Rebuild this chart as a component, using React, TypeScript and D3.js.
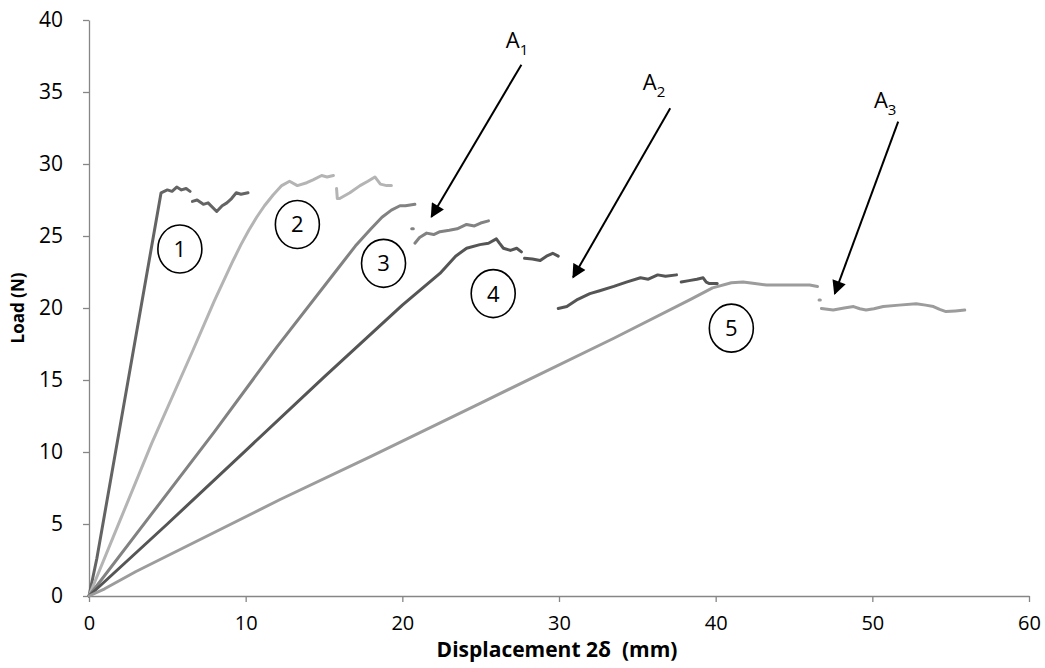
import React, { useEffect, useRef } from 'react';
import * as d3 from 'd3';

type Pt = [number, number];

// Load-displacement readings, split where the recorded trace breaks
const curve1: Pt[][] = [
  [[0, 0], [0.5, 2.6], [2, 11.9], [4.6, 28.0], [5.0, 28.2], [5.3, 28.1], [5.6, 28.4], [5.9, 28.2], [6.2, 28.3], [6.45, 28.1]],
  [[6.6, 27.4], [6.9, 27.5], [7.3, 27.2], [7.6, 27.3], [8.15, 26.7], [8.5, 27.1], [8.8, 27.3], [9.1, 27.6], [9.4, 28.0], [9.7, 27.9], [10.15, 28.0]],
];
const curve2: Pt[][] = [
  [[0, 0], [2, 5.3], [4, 10.6], [6.65, 17.1], [8, 20.5], [9.2, 23.3], [9.7, 24.4], [10.2, 25.4], [10.7, 26.3], [11.2, 27.1], [11.75, 27.85], [12.3, 28.5], [12.8, 28.8], [13.3, 28.5], [13.9, 28.7], [14.3, 28.9], [14.85, 29.2], [15.2, 29.1], [15.6, 29.2]],
  [[15.8, 28.3], [15.85, 27.6], [16.0, 27.6], [16.65, 28.0], [17.3, 28.5], [17.8, 28.8], [18.25, 29.1], [18.6, 28.6], [19.0, 28.5], [19.3, 28.5]],
];
const curve3: Pt[][] = [
  [[0, 0], [4, 5.7], [8, 11.4], [12, 17.3], [16, 22.9], [17, 24.3], [18, 25.5], [18.7, 26.3], [19.3, 26.8], [19.85, 27.1], [20.2, 27.1], [20.8, 27.2]],
  [[20.6, 25.5], [20.7, 25.5]],
  [[20.8, 24.5], [21.1, 24.9], [21.55, 25.2], [22, 25.1], [22.4, 25.3], [23, 25.4], [23.5, 25.5], [24.1, 25.8], [24.6, 25.7], [25.0, 25.9], [25.5, 26.05]],
];
const curve4: Pt[][] = [
  [[0, 0], [5, 5], [10, 10.1], [15, 15.2], [20, 20.2], [22.4, 22.4], [23.4, 23.6], [24.1, 24.15], [24.95, 24.4], [25.5, 24.5], [26.0, 24.8], [26.2, 24.5], [26.45, 24.15], [26.9, 24.0], [27.3, 24.15], [27.6, 23.9]],
  [[27.8, 23.45], [28.3, 23.4], [28.8, 23.3], [29.2, 23.6], [29.6, 23.8], [29.95, 23.6]],
  [[29.95, 19.97], [30.5, 20.1], [31.2, 20.6], [31.97, 21.0], [32.6, 21.2], [33.5, 21.5], [34.3, 21.8], [35.2, 22.1], [35.7, 22.0], [36.3, 22.3], [36.8, 22.2], [37.5, 22.3]],
  [[37.8, 21.8], [38.3, 21.9], [38.8, 22.0], [39.2, 22.1], [39.4, 21.8], [39.6, 21.7], [40.1, 21.7]],
];
const curve5: Pt[][] = [
  [[0, 0], [1, 0.5], [3, 1.7], [12.2, 6.7], [18, 9.7], [25, 13.4], [33.5, 17.9], [38.4, 20.6], [39.8, 21.4], [41, 21.75], [41.75, 21.8], [42.5, 21.7], [43.25, 21.6], [44.5, 21.6], [45.4, 21.6], [46.0, 21.6], [46.5, 21.5]],
  [[46.6, 20.55], [46.68, 20.55]],
  [[46.75, 19.97], [47.5, 19.86], [48.2, 20.0], [48.8, 20.1], [49.2, 19.95], [49.6, 19.86], [50.1, 19.95], [50.7, 20.1], [51.7, 20.2], [52.8, 20.3], [53.4, 20.2], [53.9, 20.1], [54.3, 19.9], [54.7, 19.75], [55.3, 19.8], [55.9, 19.86]],
];

const curves = [curve1, curve2, curve3, curve4, curve5];
const curveColors = ['#646464', '#b4b4b4', '#828282', '#555555', '#9c9c9c'];

// circled specimen numbers (data coordinates)
const specimenLabels = ['1', '2', '3', '4', '5'];
const specimenPos: Pt[] = [[5.8, 24.1], [13.3, 25.8], [18.8, 23.1], [25.8, 21.0], [41.0, 18.6]];

// crack-arrest arrows: label anchor, arrow start, arrow tip
const arrowNames = ['1', '2', '3'];
const arrowLabelPos: Pt[] = [[26.6, 38.06], [35.35, 35.14], [50.1, 33.9]];
const arrowFrom: Pt[] = [[27.6, 36.9], [37.1, 33.87], [51.65, 32.94]];
const arrowTo: Pt[] = [[21.86, 26.34], [30.9, 22.13], [47.6, 21.0]];

const xTicks = [0, 10, 20, 30, 40, 50, 60];
const yTicks = [0, 5, 10, 15, 20, 25, 30, 35, 40];

const W = 1045;
const H = 668;

const App = () => {
  const ref = useRef<SVGSVGElement>(null);

  useEffect(() => {
    const svg = d3.select(ref.current);
    svg.selectAll('*').remove();

    const x = d3.scaleLinear().domain([0, 60]).range([89, 1029]);
    const y = d3.scaleLinear().domain([0, 40]).range([596, 20]);
    const font = '"Open Sans", "Noto Sans", sans-serif';

    svg.append('defs').append('marker')
      .attr('id', 'head')
      .attr('viewBox', '0 0 10 10')
      .attr('refX', 9)
      .attr('refY', 5)
      .attr('markerUnits', 'userSpaceOnUse')
      .attr('markerWidth', 15)
      .attr('markerHeight', 14)
      .attr('orient', 'auto')
      .append('path')
      .attr('d', 'M0,0 L10,5 L0,10 Z')
      .attr('fill', '#000');

    // axes
    const xAxis = svg.append('g')
      .attr('transform', `translate(0,${y(0)})`)
      .call(d3.axisBottom(x).tickValues(xTicks).tickSize(6).tickSizeOuter(0).tickPadding(17));
    const yAxis = svg.append('g')
      .attr('transform', `translate(${x(0)},0)`)
      .call(d3.axisLeft(y).tickValues(yTicks).tickSize(6).tickSizeOuter(0).tickPadding(20));
    [xAxis, yAxis].forEach(g => {
      g.select('.domain').attr('stroke', '#868686').attr('stroke-width', 1.3);
      g.selectAll('.tick line').attr('stroke', '#868686').attr('stroke-width', 1.3);
      g.selectAll('.tick text')
        .attr('fill', '#000')
        .style('font-family', font);
    });
    xAxis.selectAll('.tick text').style('font-size', '20px').attr('dy', '0.55em');
    yAxis.selectAll('.tick text').style('font-size', '21px');

    // axis titles
    svg.append('text')
      .attr('x', 557)
      .attr('y', 657)
      .attr('text-anchor', 'middle')
      .style('font-family', font)
      .style('font-size', '21px')
      .style('font-weight', 'bold')
      .attr('xml:space', 'preserve')
      .text('Displacement 2δ  (mm)');
    svg.append('text')
      .attr('transform', 'translate(24,308) rotate(-90)')
      .attr('text-anchor', 'middle')
      .style('font-family', font)
      .style('font-size', '17px')
      .style('font-weight', 'bold')
      .text('Load (N)');

    // curves
    const line = d3.line<Pt>().x(d => x(d[0])).y(d => y(d[1]));
    curves.forEach((segs, i) => {
      svg.append('g').selectAll('path')
        .data(segs)
        .enter()
        .append('path')
        .attr('d', d => line(d))
        .attr('fill', 'none')
        .attr('stroke', curveColors[i])
        .attr('stroke-width', 3)
        .attr('stroke-linejoin', 'round')
        .attr('stroke-linecap', 'round');
    });

    // circled numbers
    const circ = svg.append('g').selectAll('g')
      .data(specimenLabels)
      .enter()
      .append('g')
      .attr('transform', (d, i) => `translate(${x(specimenPos[i][0])},${y(specimenPos[i][1])})`);
    circ.append('ellipse')
      .attr('rx', 22)
      .attr('ry', 24)
      .attr('fill', 'none')
      .attr('stroke', '#000')
      .attr('stroke-width', 1.6);
    circ.append('text')
      .attr('text-anchor', 'middle')
      .attr('dy', '0.36em')
      .style('font-family', font)
      .style('font-size', '22px')
      .text(d => d);

    // arrows
    arrowNames.forEach((n, i) => {
      svg.append('line')
        .attr('x1', x(arrowFrom[i][0]))
        .attr('y1', y(arrowFrom[i][1]))
        .attr('x2', x(arrowTo[i][0]))
        .attr('y2', y(arrowTo[i][1]))
        .attr('stroke', '#000')
        .attr('stroke-width', 2)
        .attr('marker-end', 'url(#head)');
      const t = svg.append('text')
        .attr('x', x(arrowLabelPos[i][0]))
        .attr('y', y(arrowLabelPos[i][1]))
        .style('font-family', font)
        .style('font-size', '22px');
      t.append('tspan').text('A');
      t.append('tspan').attr('dy', 7).style('font-size', '15px').text(n);
    });
  }, []);

  return (
    <svg
      ref={ref}
      width={W}
      height={H}
      style={{ position: 'absolute', left: 0, top: 0, background: '#fff' }}
    />
  );
};

export default App;
